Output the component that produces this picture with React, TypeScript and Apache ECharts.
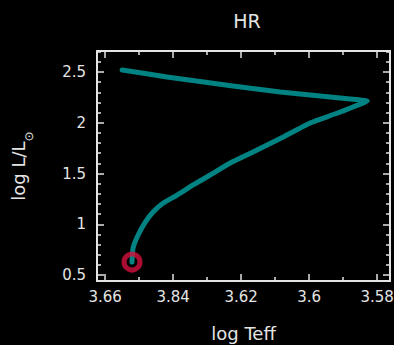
import React, { useEffect, useRef } from "react";
import * as echarts from "echarts";

// Evolutionary track (log Teff, log L/Lsun)
const logTeff = [
  3.6521, 3.6518, 3.6503, 3.6482, 3.6459, 3.6429, 3.6388, 3.6341, 3.6291, 3.6232,
  3.6165, 3.6076, 3.5997, 3.5924, 3.5871, 3.5829, 3.5879, 3.5938, 3.6085, 3.6224,
  3.6418, 3.655,
];
const logL = [
  0.628, 0.766, 0.894, 1.022, 1.121, 1.209, 1.288, 1.387, 1.485, 1.603,
  1.712, 1.86, 1.998, 2.086, 2.155, 2.214, 2.234, 2.254, 2.303, 2.362,
  2.451, 2.52,
];
const xTickValues = [3.66, 3.64, 3.62, 3.6, 3.58];
const xTickLabels = ["3.66", "3.84", "3.62", "3.6", "3.58"];

const X_MIN = 3.5762;
const X_MAX = 3.6624;
const Y_MIN = 0.441;
const Y_MAX = 2.707;

const FG = "#e4e4e4";
const FONT = "DejaVu Sans";

export default function App() {
  const ref = useRef<HTMLDivElement>(null);
  useEffect(() => {
    if (!ref.current) return;
    const chart = echarts.init(ref.current, undefined, { renderer: "svg" });
    const axisLine = { show: true, onZero: false, lineStyle: { color: FG, width: 2 } };
    const axisTick = { show: true, inside: true, length: 7, lineStyle: { color: FG, width: 1.5 } };
    const labelStyle = { color: FG, fontFamily: FONT, fontSize: 15 };
    const fmtX = (v: number) => {
      let best = 0;
      for (let i = 1; i < xTickValues.length; i++) {
        if (Math.abs(xTickValues[i] - v) < Math.abs(xTickValues[best] - v)) best = i;
      }
      return Math.abs(xTickValues[best] - v) < 1e-6 ? xTickLabels[best] : "";
    };
    chart.setOption({
      animation: false,
      backgroundColor: "#000000",
      title: {
        text: "HR",
        left: 242,
        top: 6,
        textAlign: "center",
        textStyle: { color: FG, fontFamily: FONT, fontSize: 19, fontWeight: "normal" },
      },
      grid: { left: 97, top: 51, right: 4, bottom: 64, containLabel: false, outerBoundsMode: "none" },
      xAxis: [
        {
          type: "value",
          position: "bottom",
          inverse: true,
          min: X_MIN,
          max: X_MAX,
          axisLine,
          axisTick,
          minorTick: { show: true, splitNumber: 2, length: 4, lineStyle: { color: FG, width: 1.5 } },
          splitLine: { show: false },
          axisLabel: { ...labelStyle, margin: 8, showMinLabel: false, showMaxLabel: false, formatter: fmtX },
          name: "log Teff",
          nameLocation: "middle",
          nameGap: 43,
          nameTextStyle: { color: FG, fontFamily: FONT, fontSize: 18 },
        },
        {
          type: "value",
          position: "top",
          inverse: true,
          min: X_MIN,
          max: X_MAX,
          axisLine,
          axisTick,
          minorTick: { show: true, splitNumber: 2, length: 4, lineStyle: { color: FG, width: 1.5 } },
          splitLine: { show: false },
          axisLabel: { show: false },
        },
      ],
      yAxis: [
        {
          type: "value",
          position: "left",
          min: Y_MIN,
          max: Y_MAX,
          axisLine,
          axisTick,
          minorTick: { show: true, splitNumber: 5, length: 4, lineStyle: { color: FG, width: 1.5 } },
          splitLine: { show: false },
          axisLabel: { ...labelStyle, margin: 11, showMinLabel: false, showMaxLabel: false },
          name: "{a|log L/L}{b|⊙}",
          nameLocation: "middle",
          nameRotate: 90,
          nameGap: 62,
          nameTextStyle: {
            color: FG,
            fontFamily: FONT,
            rich: {
              a: { color: FG, fontFamily: FONT, fontSize: 18, lineHeight: 26, verticalAlign: "top" },
              b: { color: FG, fontFamily: FONT, fontSize: 12, lineHeight: 26, verticalAlign: "bottom" },
            },
          },
        },
        {
          type: "value",
          position: "right",
          min: Y_MIN,
          max: Y_MAX,
          axisLine,
          axisTick,
          minorTick: { show: true, splitNumber: 5, length: 4, lineStyle: { color: FG, width: 1.5 } },
          splitLine: { show: false },
          axisLabel: { show: false },
        },
      ],
      series: [
        {
          type: "line",
          xAxisIndex: 0,
          yAxisIndex: 0,
          data: logTeff.map((x, i) => [x, logL[i]]),
          showSymbol: false,
          symbol: "none",
          smooth: 0.15,
          lineStyle: { color: "#008382", width: 5, cap: "round", join: "round" },
          z: 2,
        },
        {
          type: "scatter",
          xAxisIndex: 0,
          yAxisIndex: 0,
          data: [[logTeff[0], logL[0]]],
          symbol: "circle",
          symbolSize: 16,
          itemStyle: { color: "rgba(0,0,0,0)", borderColor: "#d4103f", borderWidth: 5 },
          z: 3,
        },
      ],
    });
    return () => chart.dispose();
  }, []);
  return (
    <div
      ref={ref}
      style={{ position: "fixed", left: 0, top: 0, width: 394, height: 345, background: "#000" }}
    />
  );
}
